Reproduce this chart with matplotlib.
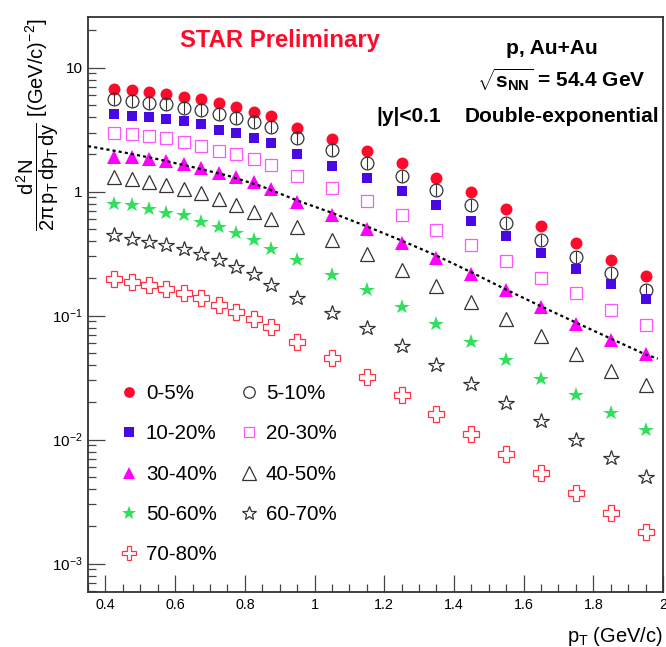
import matplotlib
matplotlib.use('Agg')
import matplotlib.pyplot as plt
from matplotlib.ticker import FixedLocator, NullFormatter

plt.rcParams.update({
    'font.family': 'Liberation Sans',
    'mathtext.fontset': 'custom',
    'mathtext.rm': 'Liberation Sans',
    'mathtext.it': 'Liberation Sans',
    'mathtext.sf': 'Liberation Sans',
    'mathtext.bf': 'Liberation Sans:bold',
})

# pT bin centres (GeV/c)
pt = [0.425, 0.475, 0.525, 0.575, 0.625, 0.675, 0.725, 0.775, 0.825, 0.875,
      0.95, 1.05, 1.15, 1.25, 1.35, 1.45, 1.55, 1.65, 1.75, 1.85, 1.95]

c0_5 = [6.73, 6.60, 6.37, 6.10, 5.83, 5.56, 5.22, 4.84, 4.41, 4.08,
        3.27, 2.64, 2.14, 1.69, 1.29, 1.00, 0.72, 0.53, 0.385, 0.283, 0.207]
c5_10 = [5.58, 5.38, 5.22, 5.06, 4.75, 4.55, 4.22, 3.92, 3.62, 3.34,
         2.69, 2.16, 1.69, 1.34, 1.03, 0.778, 0.56, 0.406, 0.297, 0.221, 0.160]
c10_20 = [4.22, 4.10, 4.02, 3.85, 3.69, 3.49, 3.14, 2.95, 2.72, 2.45,
          2.01, 1.62, 1.29, 1.01, 0.788, 0.581, 0.437, 0.321, 0.240, 0.181, 0.137]
c20_30 = [2.95, 2.90, 2.81, 2.69, 2.53, 2.34, 2.14, 2.00, 1.82, 1.64,
          1.33, 1.07, 0.838, 0.646, 0.489, 0.370, 0.275, 0.203, 0.151, 0.112, 0.0846]
c30_40 = [1.91, 1.91, 1.85, 1.76, 1.66, 1.54, 1.42, 1.32, 1.20, 1.06,
          0.82, 0.646, 0.504, 0.389, 0.294, 0.218, 0.160, 0.117, 0.0861, 0.064, 0.0487]
c40_50 = [1.32, 1.26, 1.20, 1.14, 1.06, 0.977, 0.869, 0.778, 0.687, 0.607,
          0.520, 0.411, 0.317, 0.235, 0.173, 0.129, 0.0946, 0.068, 0.0493, 0.0358, 0.0274]
c50_60 = [0.793, 0.778, 0.722, 0.674, 0.646, 0.570, 0.520, 0.468, 0.411, 0.348,
          0.280, 0.211, 0.162, 0.117, 0.085, 0.0612, 0.0441, 0.031, 0.0227, 0.0164, 0.012]
c60_70 = [0.446, 0.419, 0.393, 0.370, 0.348, 0.313, 0.280, 0.247, 0.216, 0.176,
          0.140, 0.105, 0.0794, 0.0568, 0.0402, 0.0282, 0.0197, 0.0141, 0.00996, 0.00713, 0.00504]
c70_80 = [0.199, 0.187, 0.176, 0.165, 0.152, 0.139, 0.121, 0.107, 0.0946, 0.081,
          0.0612, 0.0455, 0.0319, 0.0227, 0.0160, 0.0111, 0.00768, 0.00535, 0.00369, 0.00255, 0.00181]

# double-exponential fit to 30-40%
fit_pt = [0.35, 0.45, 0.55, 0.65, 0.75, 0.85, 0.95, 1.05, 1.15, 1.25, 1.35,
          1.45, 1.55, 1.65, 1.75, 1.85, 1.95, 1.985]
fit_val = [2.33, 2.08, 1.83, 1.58, 1.35, 1.10, 0.85, 0.675, 0.525, 0.403, 0.305,
           0.224, 0.162, 0.119, 0.088, 0.0653, 0.0486, 0.045]

labels = ['0-5%', '5-10%', '10-20%', '20-30%', '30-40%', '40-50%',
          '50-60%', '60-70%', '70-80%']
series = [c0_5, c5_10, c10_20, c20_30, c30_40, c40_50, c50_60, c60_70, c70_80]

# marker, colour, filled, size
styles = [
    ('o', '#ff0a2a', True, 8.6),
    ('o', '#333333', False, 9.2),
    ('s', '#4a08e6', True, 7.6),
    ('s', '#ff55ff', False, 8.0),
    ('^', '#ff00ff', True, 10.0),
    ('^', '#333333', False, 10.5),
    ('*', '#2ee05a', True, 11.5),
    ('*', '#333333', False, 11.5),
    ('P', '#ff3344', False, 11.0),
]

fig = plt.figure(figsize=(6.66, 6.47), dpi=100)
ax = fig.add_axes([88/666, 1 - 592/647, 575/666, (592 - 17.3)/647])

handles = []
for vals, lab, (m, col, filled, ms) in zip(series, labels, styles):
    h, = ax.plot(pt, vals, ls='none', marker=m, ms=ms,
                 mfc=col if filled else 'none', mec=col,
                 mew=0 if filled else 0.9, label=lab, zorder=3)
    handles.append(h)
    if m == 'o' and not filled:
        # error bar visible through the open circles
        ax.plot(pt, vals, ls='none', marker='|', ms=ms, mew=0.8,
                color='#333333', zorder=3)

ax.plot(fit_pt, fit_val, color='black', lw=1.6, ls=(0, (1.4, 1.4)), zorder=4)

ax.set_yscale('log')
ax.set_xlim(0.35, 2.0)
ax.set_ylim(5.9e-4, 25.5)

ax.set_yticks([1e-3, 1e-2, 1e-1, 1, 10])
ax.set_yticklabels(['$10^{-3}$', '$10^{-2}$', '$10^{-1}$', '1', '10'])
ax.yaxis.set_minor_locator(FixedLocator(
    [k * 10.0**e for e in range(-4, 2) for k in range(2, 10)]))
ax.yaxis.set_minor_formatter(NullFormatter())

ax.set_xticks([0.4, 0.6, 0.8, 1.0, 1.2, 1.4, 1.6, 1.8, 2.0])
ax.set_xticklabels(['0.4', '0.6', '0.8', '1', '1.2', '1.4', '1.6', '1.8', '2'])
ax.xaxis.set_minor_locator(FixedLocator([0.35 + 0.05 * i for i in range(34)]))

ax.tick_params(which='both', direction='in', top=False, right=False,
               color='#444444', width=0.9)
ax.tick_params(which='major', length=12.5)
ax.tick_params(which='minor', length=5.8)
ax.tick_params(axis='y', labelsize=11, pad=4)
ax.tick_params(axis='x', labelsize=10.3, pad=4)
for s in ax.spines.values():
    s.set_linewidth(1.3)
    s.set_color('#333333')

# legend fills column by column, so reorder to read row by row
order = [0, 2, 4, 6, 8, 1, 3, 5, 7]
leg = ax.legend(handles=[handles[i] for i in order], ncol=2, loc='upper left',
                bbox_to_anchor=(0.0574, 0.362), frameon=False, fontsize=14.8,
                numpoints=1, handlelength=0.8, handletextpad=0.41,
                columnspacing=1.17, labelspacing=1.04, borderpad=0,
                borderaxespad=0, markerscale=0.9)

# annotations
fig.text(280/666, 1 - 41/647, 'STAR Preliminary', color='#ff0a2a',
         fontsize=17.2, fontweight='bold', ha='center', va='center')
fig.text(552/666, 1 - 49/647, 'p, Au+Au', fontsize=15, fontweight='bold',
         ha='center', va='center')
fig.text(561/666, 1 - 80/647, r'$\sqrt{\mathbf{s}_{\mathbf{NN}}}$ = 54.4 GeV',
         fontsize=15, fontweight='bold', ha='center', va='center')
fig.text(409/666, 1 - 117/647, '|y|<0.1', fontsize=15, fontweight='bold',
         ha='center', va='center')
fig.text(562/666, 1 - 117/647, 'Double-exponential', fontsize=15,
         fontweight='bold', ha='center', va='center')

fig.text(38/666, 1 - 18/647,
         r'$\dfrac{d^{2}N}{2\pi\,p_{T}\,dp_{T}\,dy}$ [(GeV/c)$^{-2}$]',
         fontsize=14.5, rotation=90, ha='center', va='top')
fig.text(663/666, 1 - 637/647, r'$p_{T}$ (GeV/c)', fontsize=14.5,
         ha='right', va='center')

fig.savefig('out.png', dpi=100)
